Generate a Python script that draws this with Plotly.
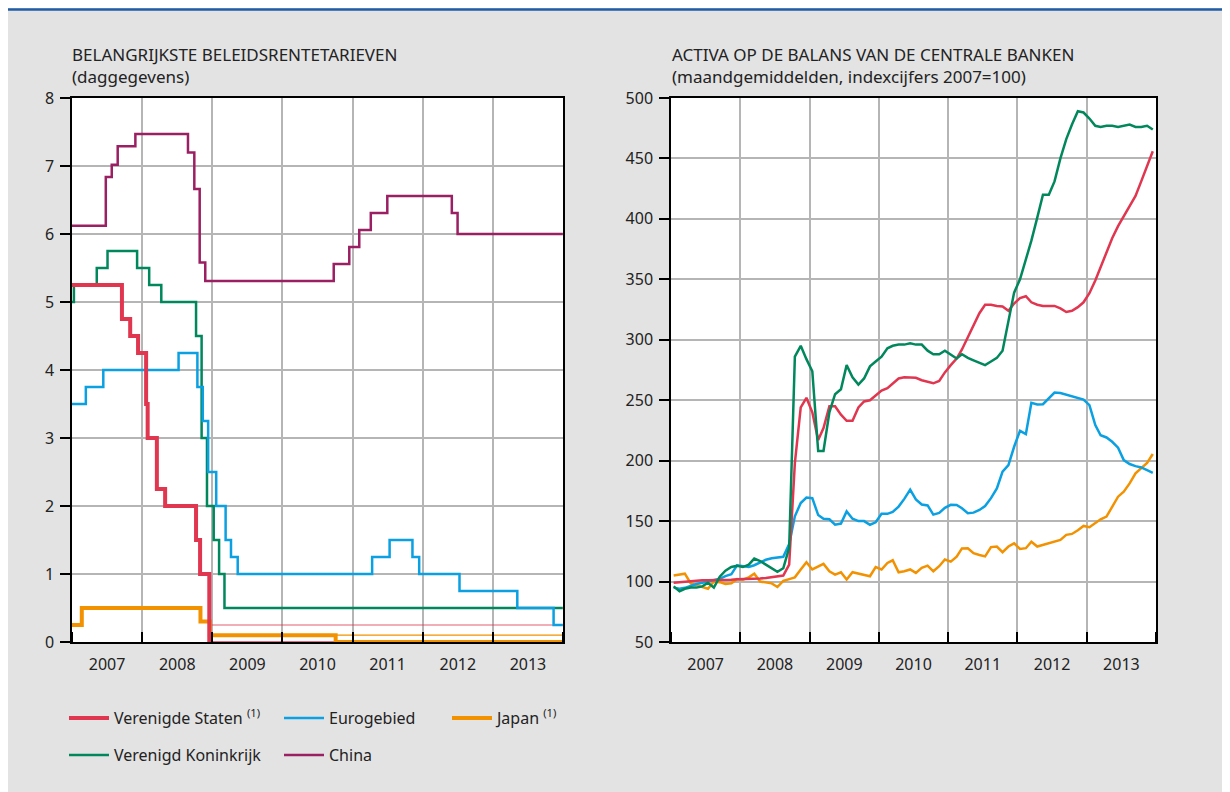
import plotly.graph_objects as go

# ---------------- DATA ----------------
# Left panel: policy rates (step series, change dates)
us_dates = ["2007-01-01", "2007-09-18", "2007-10-31", "2007-12-11", "2008-01-22", "2008-01-30",
            "2008-03-18", "2008-04-30", "2008-10-08", "2008-10-29", "2008-12-16"]
us_rate = [5.25, 4.75, 4.50, 4.25, 3.50, 3.00, 2.25, 2.00, 1.50, 1.00, 0.00]
us_band_dates = ["2008-12-16", "2013-12-31"]
us_band_upper = [0.25, 0.25]
us_band_lower = [0.0, 0.0]

ea_dates = ["2007-01-01", "2007-03-14", "2007-06-13", "2008-07-09", "2008-10-15", "2008-11-12",
            "2008-12-10", "2009-01-21", "2009-03-11", "2009-04-08", "2009-05-13", "2011-04-13",
            "2011-07-13", "2011-11-09", "2011-12-14", "2012-07-11", "2013-05-08", "2013-11-13",
            "2013-12-31"]
ea_rate = [3.50, 3.75, 4.00, 4.25, 3.75, 3.25, 2.50, 2.00, 1.50, 1.25, 1.00, 1.25,
           1.50, 1.25, 1.00, 0.75, 0.50, 0.25, 0.25]

jp_dates = ["2007-01-01", "2007-02-21", "2008-10-31", "2008-12-19", "2010-10-05", "2013-12-31"]
jp_rate = [0.25, 0.50, 0.30, 0.10, 0.00, 0.00]
jp_band_dates = ["2010-10-05", "2013-12-31"]
jp_band_upper = [0.10, 0.10]

uk_dates = ["2007-01-01", "2007-01-11", "2007-05-10", "2007-07-05", "2007-12-06", "2008-02-07",
            "2008-04-10", "2008-10-08", "2008-11-06", "2008-12-04", "2009-01-08", "2009-02-05",
            "2009-03-05", "2013-12-31"]
uk_rate = [5.00, 5.25, 5.50, 5.75, 5.50, 5.25, 5.00, 4.50, 3.00, 2.00, 1.50, 1.00, 0.50, 0.50]

cn_dates = ["2007-01-01", "2007-06-26", "2007-07-27", "2007-08-27", "2007-11-27", "2008-08-27",
            "2008-09-29", "2008-10-27", "2008-11-25", "2010-09-25", "2010-12-15", "2011-02-05",
            "2011-04-06", "2011-07-01", "2012-06-01", "2012-07-01", "2013-12-31"]
cn_rate = [6.12, 6.84, 7.02, 7.29, 7.47, 7.20, 6.66, 5.58, 5.31, 5.56, 5.81, 6.06,
           6.31, 6.56, 6.31, 6.00, 6.00]

# Right panel: central bank balance sheets, monthly averages, index 2007=100
months = [f"{y}-{m:02d}-15" for y in range(2007, 2014) for m in range(1, 13)]

us_bs = [99, 99.5, 100, 100, 100.5, 101, 101, 101, 101, 101.5, 101.5, 102,
         102, 102, 102.5, 102.5, 103, 103.5, 104, 105, 114, 198, 244, 252,
         240, 217, 227, 245, 245, 238, 233, 233, 244, 249, 250, 254,
         258, 260, 264, 268, 269, 269, 268.5, 266.5, 265, 264, 266, 273,
         279, 284.5, 292, 302, 312, 322, 329, 329, 328, 327.5, 324, 330,
         334.5, 336, 331, 329, 328, 328, 328, 326, 323, 324, 327, 331,
         338.5, 349, 360, 372, 384, 394, 402, 410, 419, 431, 444, 456]

ea_bs = [95, 94, 94.8, 96.5, 98, 99, 100, 101.2, 102.3, 104.5, 106, 113.5,
         112.5, 112, 113.5, 116, 118, 119.3, 119.8, 120.5, 131, 154, 165, 169.5,
         169, 155, 152, 151.5, 147, 148, 158, 152, 150, 150, 147, 149,
         156, 156, 157.6, 162, 168.4, 176, 168, 163.7, 163, 155.4, 156.8, 161,
         163.5, 163.4, 160.6, 156.5, 157, 159.2, 162.5, 169, 177, 191, 196.4, 211.5,
         224.7, 222, 247.8, 246.4, 246.7, 251.4, 256.3, 256, 254.7, 253.3, 252.2, 250.5,
         246, 229.4, 221, 219.2, 215.6, 210.7, 200.5, 197.2, 195.5, 194.4, 192.2, 190]

jp_bs = [105, 106, 106.5, 98.5, 97, 96, 94, 100, 99.5, 98, 98.5, 102,
         101.5, 103.5, 106.5, 100, 99, 98.5, 95.5, 100.5, 102, 103.5, 110, 116,
         110, 112.7, 114.6, 108.5, 105.8, 107.7, 101.7, 107.7, 106.6, 105, 104.4, 112,
         110, 115.4, 117.6, 107.7, 108.5, 110, 107.2, 111.3, 113.2, 108.5, 112.7, 118.2,
         116.5, 120.5, 127.4, 127.6, 123.5, 122, 120.8, 128.5, 129, 124.3, 129, 131.6,
         127, 127.6, 133, 129, 130.4, 131.7, 132.6, 134.5, 138.6, 139.4, 142.5, 146,
         145, 148.2, 151.5, 153.7, 162, 170.2, 174.4, 181.2, 189.5, 193.5, 198.2, 205.5]

uk_bs = [96, 92, 94, 95, 95, 96, 99, 95, 104, 109, 112, 113,
         112, 114, 119, 117, 114, 111, 108, 111, 128, 286, 295, 284,
         274, 208, 208, 240, 255, 259, 279, 269, 263, 268, 278, 282,
         286, 293, 295, 296, 296, 297, 296, 296, 291, 288, 288, 291,
         288, 284.5, 288, 285, 283, 281, 279, 282, 285, 291, 316, 339,
         350, 366, 382, 401, 420, 420, 431, 450, 466, 478, 489, 488,
         483, 477, 476, 477, 477, 476, 477, 478, 476, 476, 477, 474]

# Texts
left_title = "BELANGRIJKSTE BELEIDSRENTETARIEVEN<br>(daggegevens)"
right_title = "ACTIVA OP DE BALANS VAN DE CENTRALE BANKEN<br>(maandgemiddelden, indexcijfers 2007=100)"
names = {
    "us": "Verenigde Staten <sup>(1)</sup>",
    "ea": "Eurogebied",
    "jp": "Japan <sup>(1)</sup>",
    "uk": "Verenigd Koninkrijk",
    "cn": "China",
}

# ---------------- STYLE ----------------
RED = "#e0364f"
BLUE = "#0aa0e2"
ORANGE = "#f39200"
GREEN = "#00875c"
PURPLE = "#9a2063"
TXT = "#222222"
GRID = "#b5b5b5"
BG = "#e3e3e3"
FONT = "Noto Sans"

# page has an 8px body margin; figure coordinates = screen - 8
W, H = 1222, 784
def px(x): return (x - 8) / W
def py(y): return 1 - (y - 8) / H

fig = go.Figure()

def step(x, y, color, width, name=None, legend=None, show=False, opacity=1.0):
    return go.Scatter(x=x, y=y, mode="lines", line=dict(color=color, width=width, shape="hv"),
                      name=name, showlegend=show, legend=legend,
                      opacity=opacity, hoverinfo="skip", xaxis="x", yaxis="y")

fig.add_trace(step(us_band_dates, us_band_upper, RED, 1.2, opacity=0.8))
fig.add_trace(step(us_band_dates, us_band_lower, RED, 1.5))
fig.add_trace(step(jp_band_dates, jp_band_upper, ORANGE, 1.2))
fig.add_trace(step(cn_dates, cn_rate, PURPLE, 2.5, names["cn"], "legend4", True))
fig.add_trace(step(uk_dates, uk_rate, GREEN, 2.5, names["uk"], "legend2", True))
fig.add_trace(step(ea_dates, ea_rate, BLUE, 2.5, names["ea"], "legend3", True))
fig.add_trace(step(jp_dates, jp_rate, ORANGE, 4, names["jp"], "legend5", True))
fig.add_trace(step(us_dates, us_rate, RED, 4, names["us"], "legend", True))

for vals, col in [(jp_bs, ORANGE), (ea_bs, BLUE), (us_bs, RED), (uk_bs, GREEN)]:
    fig.add_trace(go.Scatter(x=months, y=vals, mode="lines", line=dict(color=col, width=2.5),
                             showlegend=False, hoverinfo="skip", xaxis="x2", yaxis="y3"))

tickfont = dict(family=FONT, size=16, color=TXT)
xcommon = dict(type="date", range=["2007-01-01", "2014-01-01"], dtick="M12", tick0="2007-01-01",
               ticklabelmode="period", tickformat="%Y", ticks="inside", ticklen=10, tickwidth=1.5,
               tickcolor="black", showgrid=True, gridcolor=GRID, gridwidth=1.5,
               showline=True, linecolor="black", linewidth=1.5, mirror=True,
               tickfont=tickfont, ticklabelstandoff=7, zeroline=False, fixedrange=True,
               automargin=False)
ycommon = dict(ticks="outside", ticklen=10, tickwidth=1.5, tickcolor="black",
               showline=True, linecolor="black", linewidth=1.5, tickfont=tickfont,
               zeroline=False, fixedrange=True, automargin=False, ticklabelstandoff=3)

ydom = [py(642), py(98)]

def leg(xs, ys):
    return dict(x=px(xs), y=py(ys), xanchor="left", yanchor="middle", orientation="v",
                font=dict(family=FONT, size=16, color=TXT), bgcolor="rgba(0,0,0,0)",
                itemwidth=40)

def ann(text, xs, ys, size=17):
    return dict(text=text, x=px(xs), y=py(ys), xref="paper", yref="paper",
                xanchor="left", yanchor="middle", align="left", showarrow=False,
                font=dict(family=FONT, size=size, color=TXT))

fig.update_layout(
    width=W, height=H,
    margin=dict(l=0, r=0, t=0, b=0, autoexpand=False),
    paper_bgcolor=BG, plot_bgcolor="white",
    font=dict(family=FONT, color=TXT),
    xaxis=dict(domain=[px(72), px(563)], anchor="y", **xcommon),
    yaxis=dict(domain=ydom, anchor="x", range=[0, 8], dtick=1, side="left",
               showgrid=True, gridcolor=GRID, gridwidth=1.5, mirror=True, **ycommon),
    yaxis2=dict(overlaying="y", anchor="x", side="right", range=[0, 8], dtick=1,
                showgrid=False, **ycommon),
    xaxis2=dict(domain=[px(671), px(1156)], anchor="y3", **xcommon),
    yaxis3=dict(domain=ydom, anchor="x2", range=[50, 500], dtick=50, side="left",
                showgrid=True, gridcolor=GRID, gridwidth=1.5, mirror=True, **ycommon),
    yaxis4=dict(overlaying="y3", anchor="x2", side="right", range=[50, 500], dtick=50,
                showgrid=False, **ycommon),
    legend=leg(64, 718),
    legend2=leg(64, 755),
    legend3=leg(279, 718),
    legend4=leg(279, 755),
    legend5=leg(447, 718),
    annotations=[
        ann(left_title, 70, 65),
        ann(right_title, 670, 65),
    ],
    shapes=[
        dict(type="line", xref="paper", yref="paper", x0=0, x1=1, y0=py(9.5), y1=py(9.5),
             line=dict(color="#1f5da6", width=2.4), layer="above"),
    ],
)

fig.write_html("out.html")
